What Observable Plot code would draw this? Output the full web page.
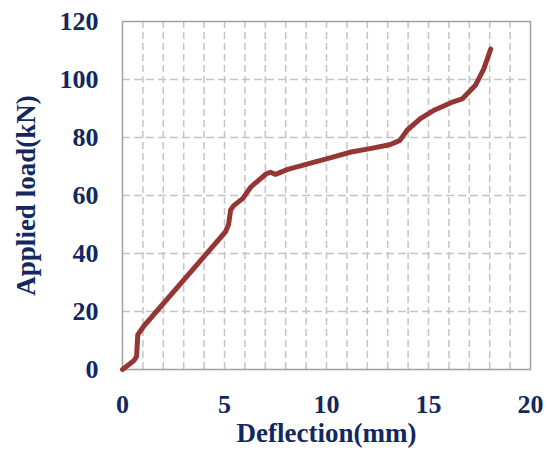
<!DOCTYPE html>
<html>
<head>
<meta charset="utf-8">
<script src="https://cdn.jsdelivr.net/npm/d3@7"></script>
<script src="https://cdn.jsdelivr.net/npm/@observablehq/plot@0.6"></script>
<style>
  html, body { margin: 0; padding: 0; background: #fff; }
</style>
</head>
<body>
<div id="chart"></div>
<script>
const deflection = [0, 0.55, 0.69, 0.75, 1.05, 5.05, 5.2, 5.3, 5.45, 5.9, 6.3, 7.05, 7.25, 7.5, 8.1, 9.4, 10.4, 11.2, 12.0, 13.1, 13.6, 13.95, 14.6, 15.3, 16.1, 16.65, 17.3, 17.7, 18.05];
const load = [0, 3, 4.5, 12, 15, 47.5, 50, 55, 56.5, 59, 63, 67.5, 68, 67.3, 69, 71.5, 73.4, 75, 76, 77.5, 79, 82.5, 86.5, 89.5, 92, 93.3, 98, 103.5, 110.5];
const xTicks = [0, 5, 10, 15, 20];
const yTicks = [0, 20, 40, 60, 80, 100, 120];
const xGrid = d3.range(1, 20);
const yGrid = [20, 40, 60, 80, 100];
const xTitle = "Deflection(mm)";
const yTitle = "Applied load(kN)";

const data = deflection.map((d, i) => ({x: d, y: load[i]}));
const navy = "#12285e";

const chart = Plot.plot({
  width: 547,
  height: 450,
  marginLeft: 122,
  marginRight: 17,
  marginTop: 21,
  marginBottom: 81,
  style: {fontFamily: "'Liberation Serif', 'Times New Roman', serif", fontWeight: "bold", color: navy, background: "#fff"},
  x: {domain: [0, 20]},
  y: {domain: [0, 120]},
  marks: [
    Plot.ruleX(xGrid, {stroke: "#c4c4c4", strokeWidth: 1.5, strokeDasharray: "7,4", strokeOpacity: 1}),
    Plot.ruleY(yGrid, {stroke: "#c4c4c4", strokeWidth: 1.5, strokeDasharray: "8,4", strokeOpacity: 1}),
    Plot.frame({stroke: "#a0a0a0", strokeWidth: 1.5}),
    Plot.axisX(xTicks, {tickSize: 0, tickPadding: 25, fontSize: 26, fontWeight: "bold", fill: navy, label: null}),
    Plot.axisY(yTicks, {tickSize: 0, tickPadding: 24, fontSize: 26, fontWeight: "bold", fill: navy, label: null}),
    Plot.line(data, {x: "x", y: "y", stroke: "#963634", strokeWidth: 5, strokeLinejoin: "round", strokeLinecap: "round"}),
    Plot.text([xTitle], {frameAnchor: "bottom", dy: 64, lineAnchor: "middle", textAnchor: "middle", text: d => d, fontSize: 27, fontWeight: "bold", fill: navy}),
    Plot.text([yTitle], {frameAnchor: "left", dx: -96, rotate: -90, lineAnchor: "middle", textAnchor: "middle", text: d => d, fontSize: 27, fontWeight: "bold", fill: navy})
  ]
});
document.getElementById("chart").appendChild(chart);
</script>
</body>
</html>
